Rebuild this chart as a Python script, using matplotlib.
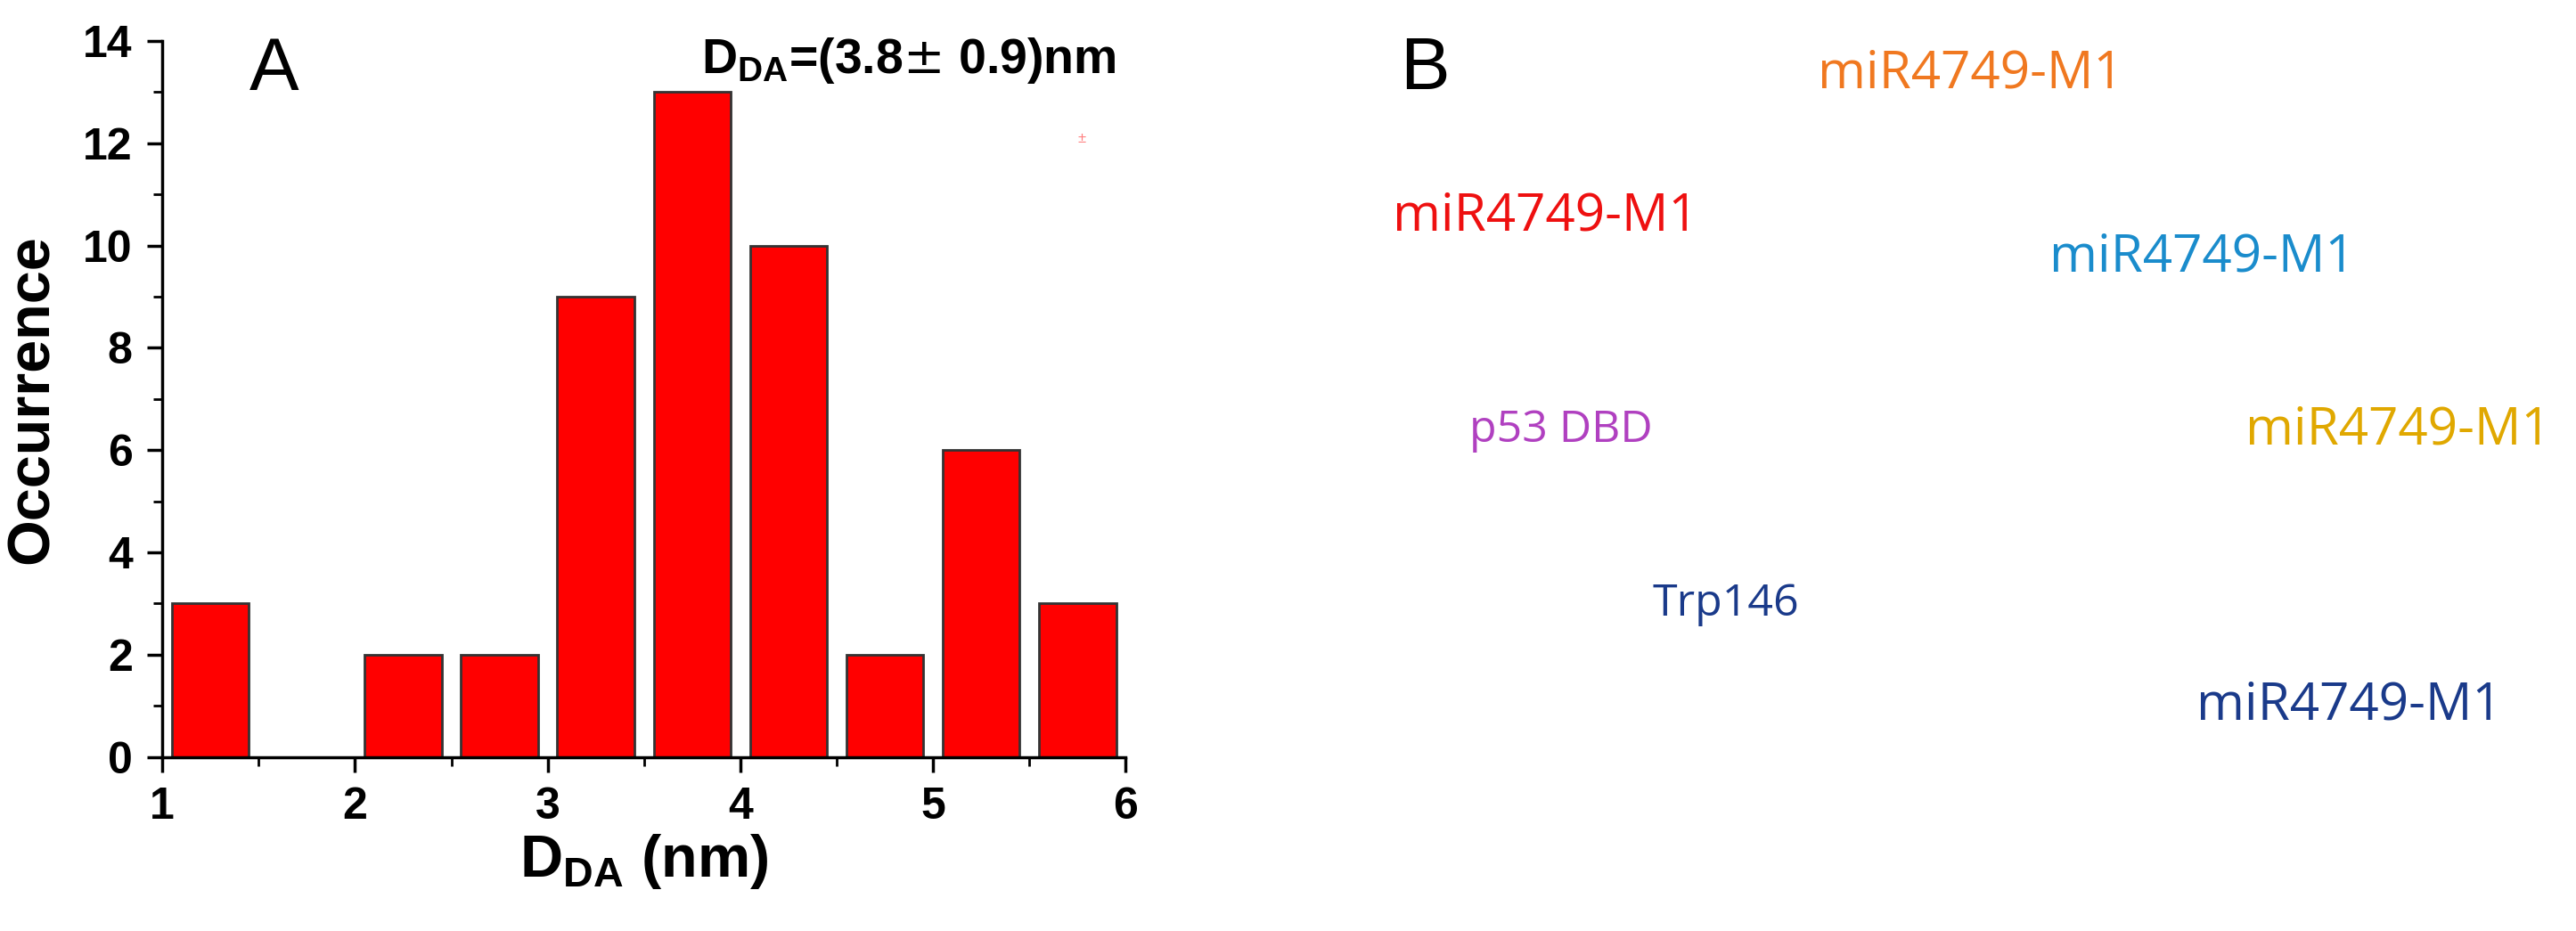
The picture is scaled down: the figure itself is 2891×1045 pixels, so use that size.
import matplotlib
matplotlib.use("Agg")
import matplotlib.pyplot as plt
import numpy as np

bin_centers = [1.25, 1.75, 2.25, 2.75, 3.25, 3.75, 4.25, 4.75, 5.25, 5.75]
counts = [3, 0, 2, 2, 9, 13, 10, 2, 6, 3]
xticks = [1, 2, 3, 4, 5, 6]
yticks = [0, 2, 4, 6, 8, 10, 12, 14]

plt.rcParams['font.family'] = ['Liberation Sans Narrow', 'Liberation Sans', 'DejaVu Sans']
fig = plt.figure(figsize=(28.91, 10.45), dpi=100)
ax = fig.add_axes([0.063, 0.187, 0.374, 0.769])
ax.bar(bin_centers, counts, width=0.4, color='#ff0000', edgecolor='#333333', linewidth=2)
ax.set_xlim(1, 6)
ax.set_ylim(0, 14)
ax.set_xticks(xticks)
ax.set_yticks(yticks)
ax.set_xticks(np.arange(1.5, 6, 1), minor=True)
ax.set_yticks(np.arange(1, 14, 2), minor=True)
for s in ['top', 'right']:
    ax.spines[s].set_visible(False)
for s in ['left', 'bottom']:
    ax.spines[s].set_linewidth(2.5)
ax.tick_params(which='major', length=12, width=2.5, labelsize=36, pad=12)
ax.tick_params(which='minor', length=7, width=2)
for lab in ax.get_xticklabels() + ax.get_yticklabels():
    lab.set_fontweight('bold')
ax.set_ylabel('Occurrence', fontsize=48, fontweight='bold', family=['Liberation Sans', 'DejaVu Sans'], labelpad=18)
ax.set_xlabel(r'D$_\mathregular{DA}$ (nm)', fontsize=48, fontweight='bold', family=['Liberation Sans', 'DejaVu Sans'])
ax.text(1.45, 14.1, 'A', fontsize=60, va='top', family=['Liberation Sans', 'DejaVu Sans'])
ax.text(5.95, 14.1, r'D$_\mathregular{DA}$=(3.8$\pm$ 0.9)nm', fontsize=40, fontweight='bold',
        ha='right', va='top')
ax.text(5.77, 12.1, '±', fontsize=12, color='#ff8080', ha='center', va='center')

fam = ['Open Sans', 'DejaVu Sans']
fig.text(0.553, 0.925, 'B', fontsize=60, va='center', ha='center', family=['Liberation Sans', 'DejaVu Sans'])
fig.text(0.765, 0.92, 'miR4749-M1', fontsize=42, color='#f07820', ha='center', va='center', family=fam)
fig.text(0.60, 0.767, 'miR4749-M1', fontsize=42, color='#ee1010', ha='center', va='center', family=fam)
fig.text(0.855, 0.723, 'miR4749-M1', fontsize=42, color='#1a8ccc', ha='center', va='center', family=fam)
fig.text(0.931, 0.538, 'miR4749-M1', fontsize=42, color='#e0a800', ha='center', va='center', family=fam)
fig.text(0.606, 0.538, 'p53 DBD', fontsize=36, color='#b040c0', ha='center', va='center', family=fam)
fig.text(0.67, 0.351, 'Trp146', fontsize=36, color='#1a3a8a', ha='center', va='center', family=fam)
fig.text(0.912, 0.242, 'miR4749-M1', fontsize=42, color='#1a3a8a', ha='center', va='center', family=fam)

fig.savefig('out.png', dpi=100)
